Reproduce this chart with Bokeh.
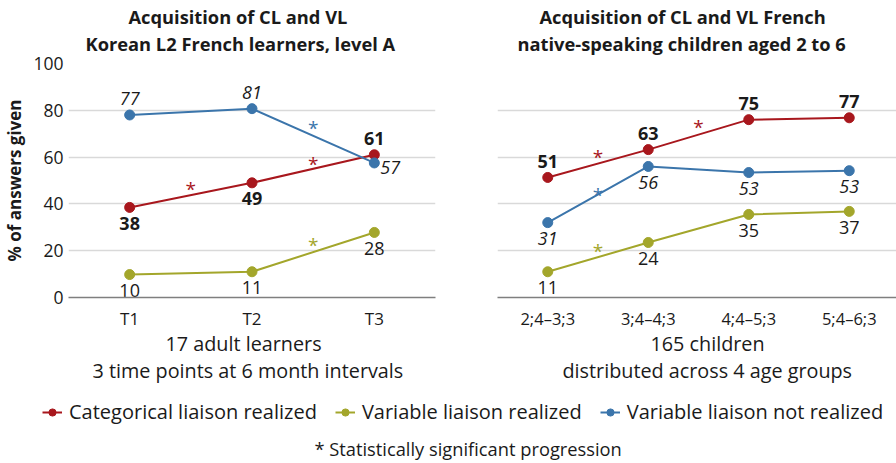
from bokeh.plotting import figure
from bokeh.models import (FactorRange, Range1d, Legend, LegendItem, Label, Title,
                          ColumnDataSource, FixedTicker)
from bokeh.layouts import column, row
from bokeh.transform import dodge
from bokeh.core.properties import value
from bokeh.embed import file_html
from bokeh.resources import INLINE

# ---------------- data ----------------
left_cats = ["T1", "T2", "T3"]
left_cl = [38.5, 49, 61]
left_vl_real = [9.8, 11, 27.8]
left_vl_not = [78, 80.7, 57.5]
left_cl_text = ["38", "49", "61"]
left_vl_real_text = ["10", "11", "28"]
left_vl_not_text = ["77", "81", "57"]
left_cl_star_from = ["T1", "T2"]
left_cl_star_y = [48.5, 59]
left_vl_real_star_from = ["T2"]
left_vl_real_star_y = [24.5]
left_vl_not_star_from = ["T2"]
left_vl_not_star_y = [74.5]

right_cats = ["2;4–3;3", "3;4–4;3", "4;4–5;3", "5;4–6;3"]
right_cl = [51.3, 63.2, 76, 76.8]
right_vl_real = [11, 23.5, 35.5, 36.8]
right_vl_not = [32, 56, 53.4, 54.2]
right_cl_text = ["51", "63", "75", "77"]
right_vl_real_text = ["11", "24", "35", "37"]
right_vl_not_text = ["31", "56", "53", "53"]
right_cl_star_from = ["2;4–3;3", "3;4–4;3"]
right_cl_star_y = [62, 74.8]
right_vl_real_star_from = ["2;4–3;3"]
right_vl_real_star_y = [21.8]
right_vl_not_star_from = ["2;4–3;3"]
right_vl_not_star_y = [46]

y_ticks = [0, 20, 40, 60, 80, 100]
y_title = "% of answers given"
left_titles = ["Acquisition of CL and VL", "Korean L2 French learners, level A"]
left_subtitles = ["17 adult learners", "3 time points at 6 month intervals"]
right_titles = ["Acquisition of CL and VL French", "native-speaking children aged 2 to 6"]
right_subtitles = ["165 children", "distributed across 4 age groups"]
series_names = ["Categorical liaison realized", "Variable liaison realized", "Variable liaison not realized"]
footnote = "*  Statistically significant progression"

# ---------------- style ----------------
FONT = "Open Sans"
RED = "#a8171d"
OLIVE = "#a3a62b"
BLUE = "#3b75ab"
TXT = "#1a1a1a"
GRID = "#d9d9d9"
FRAME_H = 234


def make_panel(cats, cl, vlr, vln, cl_t, vlr_t, vln_t, stars, width_params, label_sides,
               titles, title_offsets, subtitles, sub_offsets, tick_size, show_y):
    fw, bl, br = width_params
    p = figure(x_range=FactorRange(factors=cats), y_range=Range1d(0, 100),
               frame_width=fw, frame_height=FRAME_H,
               min_border_left=bl, min_border_right=br, min_border_top=63, min_border_bottom=90,
               output_backend="svg", toolbar_location=None, title=None)
    p.outline_line_color = None
    p.background_fill_color = "white"
    p.border_fill_color = "white"
    p.xgrid.visible = False
    p.ygrid.grid_line_color = GRID
    p.ygrid.grid_line_width = 1.5
    p.yaxis.ticker = FixedTicker(ticks=y_ticks)
    p.yaxis.axis_line_color = None
    p.yaxis.major_tick_line_color = None
    p.yaxis.minor_tick_line_color = None
    p.yaxis.major_tick_out = 0
    p.yaxis.major_label_text_font = FONT
    p.yaxis.major_label_text_font_size = "17.5px"
    p.yaxis.major_label_text_color = TXT
    p.yaxis.major_label_standoff = 5
    if show_y:
        p.yaxis.axis_label = y_title
        p.yaxis.axis_label_text_font = FONT
        p.yaxis.axis_label_text_font_size = "17px"
        p.yaxis.axis_label_text_font_style = "bold"
        p.yaxis.axis_label_text_color = TXT
        p.yaxis.axis_label_standoff = 4
    else:
        p.yaxis.visible = False
    p.xaxis.axis_line_color = "#7f7f7f"
    p.xaxis.axis_line_width = 1.5
    p.xaxis.major_tick_line_color = None
    p.xaxis.minor_tick_line_color = None
    p.xaxis.major_tick_out = 0
    p.xaxis.major_label_text_font = FONT
    p.xaxis.major_label_text_font_size = tick_size
    p.xaxis.major_label_text_color = TXT
    p.xaxis.major_label_standoff = 9

    series = [(cl, cl_t, RED, "bold"), (vlr, vlr_t, OLIVE, "normal"), (vln, vln_t, BLUE, "italic")]
    for (vals, texts, color, style), sides in zip(series, label_sides):
        src = ColumnDataSource(dict(x=cats, y=vals, t=texts))
        p.line("x", "y", source=src, line_color=color, line_width=2)
        p.scatter("x", "y", source=src, size=10, fill_color=color, line_color=color)
        for side in ("below", "above", "right"):
            idx = [i for i, s in enumerate(sides) if s == side]
            if not idx:
                continue
            sub = ColumnDataSource(dict(x=[cats[i] for i in idx], y=[vals[i] for i in idx],
                                        t=[texts[i] for i in idx]))
            if side == "below":
                kw = dict(x_offset=0, y_offset=16, text_align="center")
            elif side == "above":
                kw = dict(x_offset=0, y_offset=-16, text_align="center")
            else:
                kw = dict(x_offset=6, y_offset=5, text_align="left")
            p.text("x", "y", text="t", source=sub, text_baseline="middle",
                   text_font=value(FONT), text_font_size="18px", text_font_style=style,
                   text_color=TXT, **kw)
    for (frm, ys), color in zip(stars, [RED, OLIVE, BLUE]):
        ssrc = ColumnDataSource(dict(x=frm, y=ys, t=["*"] * len(ys)))
        p.text(dodge("x", 0.5, range=p.x_range), "y", text="t", source=ssrc,
               text_align="center", text_baseline="middle", y_offset=5,
               text_font=value(FONT), text_font_size="19px", text_color=color)

    # titles: later added = farther from the frame
    p.add_layout(Title(text=titles[1], align="left", offset=title_offsets[1], text_font=FONT,
                       text_font_size="18.3px", text_font_style="bold", text_color=TXT,
                       standoff=15), "above")
    p.add_layout(Title(text=titles[0], align="left", offset=title_offsets[0], text_font=FONT,
                       text_font_size="18.3px", text_font_style="bold", text_color=TXT,
                       standoff=-14.4), "above")
    p.add_layout(Title(text=subtitles[0], align="left", offset=sub_offsets[0], text_font=FONT,
                       text_font_size="19.8px", text_font_style="normal", text_color=TXT,
                       standoff=-9.5), "below")
    p.add_layout(Title(text=subtitles[1], align="left", offset=sub_offsets[1], text_font=FONT,
                       text_font_size="19.8px", text_font_style="normal", text_color=TXT,
                       standoff=4.5), "below")
    return p


p1 = make_panel(left_cats, left_cl, left_vl_real, left_vl_not,
                left_cl_text, left_vl_real_text, left_vl_not_text,
                [(left_cl_star_from, left_cl_star_y), (left_vl_real_star_from, left_vl_real_star_y),
                 (left_vl_not_star_from, left_vl_not_star_y)],
                (367, 65, 31),
                [["below", "below", "above"], ["below", "below", "below"], ["above", "above", "right"]],
                left_titles, (60, 17), left_subtitles, (97, 24), "17px", True)

p2 = make_panel(right_cats, right_cl, right_vl_real, right_vl_not,
                right_cl_text, right_vl_real_text, right_vl_not_text,
                [(right_cl_star_from, right_cl_star_y), (right_vl_real_star_from, right_vl_real_star_y),
                 (right_vl_not_star_from, right_vl_not_star_y)],
                (402, 31, 0),
                [["above"] * 4, ["below"] * 4, ["below"] * 4],
                right_titles, (42, 20), right_subtitles, (153, 65), "16.5px", False)

# ---------------- legend strip ----------------
p3 = figure(width=896, height=76, x_range=Range1d(0, 1), y_range=Range1d(0, 1),
            min_border=0, output_backend="svg", toolbar_location=None, title=None)
p3.axis.visible = False
p3.grid.visible = False
p3.outline_line_color = None
items = []
for name, vals, color in zip(series_names, [left_cl, left_vl_real, left_vl_not], [RED, OLIVE, BLUE]):
    xs = list(range(len(vals)))
    ln = p3.line(xs, vals, line_color=color, line_width=2)
    sc = p3.scatter(xs, vals, size=9, fill_color=color, line_color=color)
    items.append(LegendItem(label=name, renderers=[ln, sc]))
legend = Legend(items=items, orientation="horizontal", location=(42, 38), padding=0, margin=0,
                spacing=18, label_standoff=7, glyph_width=20, glyph_height=18,
                label_text_font=FONT, label_text_font_size="20px", label_text_color=TXT,
                border_line_alpha=0, background_fill_alpha=0)
p3.add_layout(legend)
p3.add_layout(Label(x=470, y=15, x_units="screen", y_units="screen", text=footnote,
                    text_align="center", text_baseline="middle", text_font=FONT,
                    text_font_size="18.3px", text_color=TXT))

layout = column(row(p1, p2, spacing=0), p3, spacing=0)
open("out.html", "w").write(file_html(layout, INLINE))
